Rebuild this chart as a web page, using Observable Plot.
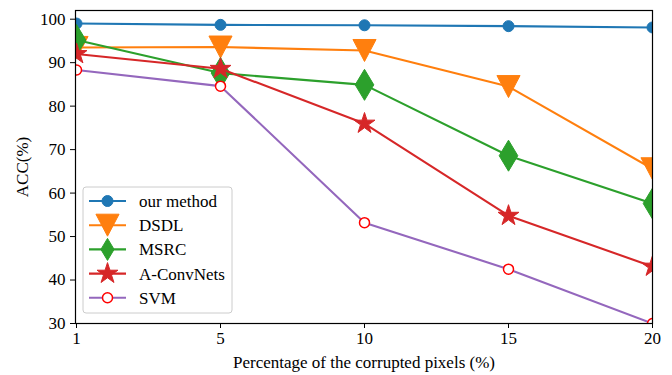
<!DOCTYPE html>
<html>
<head>
<meta charset="utf-8">
<script src="https://cdn.jsdelivr.net/npm/d3@7"></script>
<script src="https://cdn.jsdelivr.net/npm/@observablehq/plot@0.6"></script>
<style>
  html, body { margin: 0; padding: 0; background: #fff; }
  svg { font-family: "Liberation Serif", "Times New Roman", serif; }
</style>
</head>
<body>
<div id="chart"></div>
<script>
// ---- data ----
const xTicks = [1, 5, 10, 15, 20];
const seriesNames = ["our method", "DSDL", "MSRC", "A-ConvNets", "SVM"];
const ours  = [99.0, 98.7, 98.6, 98.4, 98.1];
const dsdl  = [93.5, 93.6, 92.8, 84.5, 65.6];
const msrc  = [95.2, 87.6, 84.9, 68.6, 57.6];
const aconv = [92.0, 88.6, 76.0, 54.8, 43.1];
const svm   = [88.3, 84.6, 53.2, 42.5, 30.0];
const yTicks = [30, 40, 50, 60, 70, 80, 90, 100];

// ---- custom symbols (matplotlib-like) ----
const triDown = {draw(ctx, size) {
  const r = Math.sqrt(size / Math.PI);
  ctx.moveTo(-r * 1.05, -r); ctx.lineTo(r * 1.05, -r); ctx.lineTo(0, r); ctx.closePath();
}};
const thinDiamond = {draw(ctx, size) {
  const r = Math.sqrt(size / Math.PI);
  ctx.moveTo(0, -r); ctx.lineTo(r * 0.6, 0); ctx.lineTo(0, r); ctx.lineTo(-r * 0.6, 0); ctx.closePath();
}};
const star5 = {draw(ctx, size) {
  const R = Math.sqrt(size / Math.PI), ri = R * 0.38;
  for (let i = 0; i < 10; i++) {
    const rad = i % 2 === 0 ? R : ri;
    const a = -Math.PI / 2 + i * Math.PI / 5;
    const px = rad * Math.cos(a), py = rad * Math.sin(a);
    if (i === 0) ctx.moveTo(px, py); else ctx.lineTo(px, py);
  }
  ctx.closePath();
}};
const circleSym = {draw(ctx, size) {
  const r = Math.sqrt(size / Math.PI);
  ctx.moveTo(r, 0); ctx.arc(0, 0, r, 0, 2 * Math.PI);
}};

const styles = [
  {vals: ours,  color: "#1f77b4", symbol: circleSym,   r: 5.5,  fill: "#1f77b4", mstroke: "#1f77b4", msw: 1},
  {vals: dsdl,  color: "#ff7f0e", symbol: triDown,     r: 11,   fill: "#ff7f0e", mstroke: "#ff7f0e", msw: 1},
  {vals: msrc,  color: "#2ca02c", symbol: thinDiamond, r: 15.5, fill: "#2ca02c", mstroke: "#2ca02c", msw: 1},
  {vals: aconv, color: "#d62728", symbol: star5,       r: 11,   fill: "#d62728", mstroke: "#d62728", msw: 1},
  {vals: svm,   color: "#9467bd", symbol: circleSym,   r: 5,    fill: "white",   mstroke: "red",     msw: 1.5}
];

const marks = [];
styles.forEach((s, k) => {
  const data = xTicks.map((x, i) => ({x, y: s.vals[i]}));
  marks.push(Plot.line(data, {x: "x", y: "y", stroke: s.color, strokeWidth: 2.1, clip: true}));
  marks.push(Plot.dot(data, {x: "x", y: "y", symbol: s.symbol, r: s.r, fill: s.fill,
    stroke: s.mstroke, strokeWidth: s.msw, clip: true}));
});

const FS = 17;
const FONT = "'Liberation Serif', 'Times New Roman', serif";
const plot = Plot.plot({
  width: 672,
  height: 375,
  marginLeft: 75,
  marginRight: 20,
  marginTop: 10,
  marginBottom: 52,
  style: {fontFamily: FONT, fontSize: FS + "px", color: "black", background: "white"},
  x: {type: "point", domain: xTicks, padding: 0},
  y: {domain: [30, 102]},
  marks: [
    Plot.axisX({ticks: xTicks, tickSize: 5, tickPadding: 3, fontSize: FS, stroke: "black",
      label: "Percentage of the corrupted pixels (%)", labelAnchor: "center", labelArrow: "none", labelOffset: 44}),
    Plot.axisY({ticks: yTicks, tickSize: 5, tickPadding: 5, fontSize: FS, stroke: "black",
      label: "ACC(%)", labelAnchor: "center", labelArrow: "none", labelOffset: 60}),
    ...marks,
    Plot.frame({stroke: "black", strokeWidth: 1.2})
  ]
});
document.getElementById("chart").appendChild(plot);

// ---- legend (matplotlib-style box) ----
const svg = d3.select(plot);
const lg = svg.append("g").attr("transform", "translate(83,187)");
lg.append("rect").attr("width", 149).attr("height", 126).attr("rx", 3)
  .attr("fill", "white").attr("fill-opacity", 0.8).attr("stroke", "#cccccc").attr("stroke-width", 1);
styles.forEach((s, k) => {
  const cy = 14 + k * 24.2;
  const row = lg.append("g").attr("transform", `translate(0,${cy})`);
  row.append("line").attr("x1", 6).attr("x2", 43).attr("y1", 0).attr("y2", 0)
    .attr("stroke", s.color).attr("stroke-width", 2.1);
  const p = d3.path();
  const lr = Math.min(s.r, 11);
  s.symbol.draw(p, lr * lr * Math.PI);
  row.append("path").attr("transform", "translate(24.5,0)").attr("d", p.toString())
    .attr("fill", s.fill).attr("stroke", s.mstroke).attr("stroke-width", s.msw);
  row.append("text").attr("x", 56).attr("y", 0).attr("dy", "0.35em")
    .attr("text-anchor", "start")
    .attr("font-family", FONT)
    .attr("font-size", FS).attr("fill", "black").text(seriesNames[k]);
});
</script>
</body>
</html>
